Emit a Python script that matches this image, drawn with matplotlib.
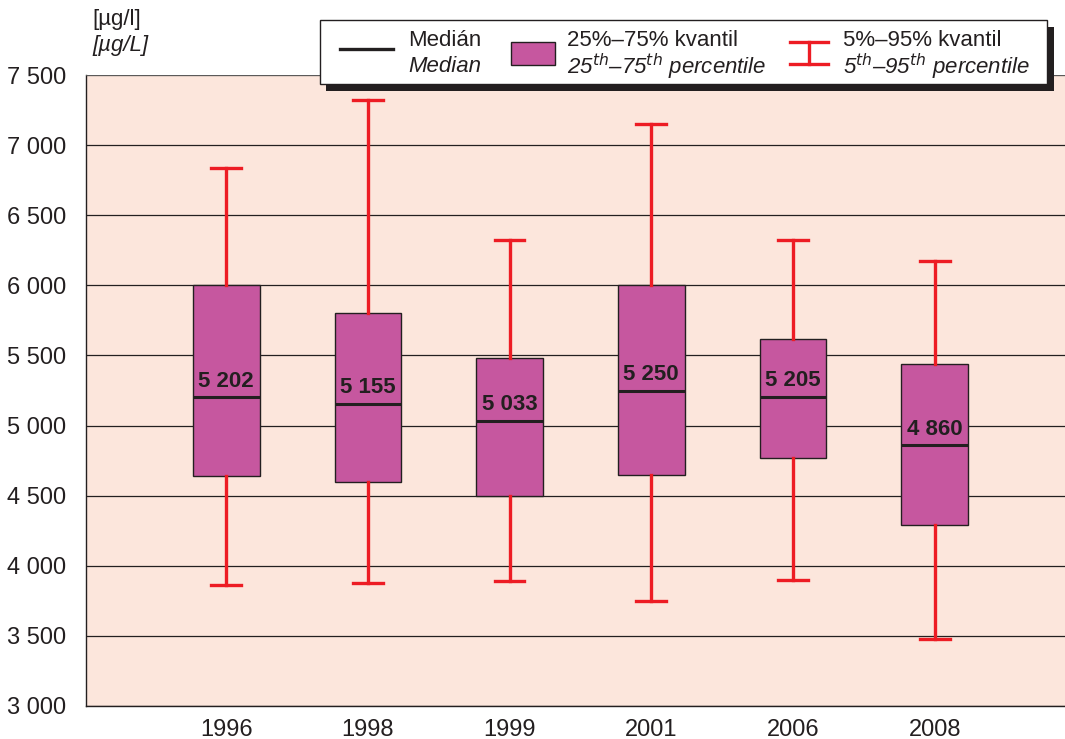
import matplotlib
matplotlib.use('Agg')
import matplotlib.pyplot as plt
from matplotlib.patches import Rectangle
from matplotlib.lines import Line2D

plt.rcParams['font.family'] = ['Liberation Sans Narrow', 'Liberation Sans', 'DejaVu Sans']
plt.rcParams['mathtext.fontset'] = 'custom'
plt.rcParams['mathtext.it'] = 'Liberation Sans Narrow:italic'
plt.rcParams['mathtext.rm'] = 'Liberation Sans Narrow'
plt.rcParams['mathtext.default'] = 'it'

# data
roky = ['1996', '1998', '1999', '2001', '2006', '2008']
p5 = [3860, 3880, 3890, 3750, 3900, 3480]
p25 = [4640, 4600, 4500, 4650, 4770, 4290]
median = [5202, 5155, 5033, 5250, 5205, 4860]
p75 = [6000, 5800, 5480, 6000, 5620, 5440]
p95 = [6840, 7320, 6320, 7150, 6320, 6170]

W, H = 1065, 739
bg = '#fce6dc'
box_c = '#c6579f'
red = '#ed1c24'
dark = '#231f20'
fs = 17     # osy
fs2 = 16    # legenda a popisky

fig = plt.figure(figsize=(W / 100, H / 100), dpi=100)
ax = fig.add_axes([86 / W, 1 - 706 / H, 1 - 86 / W, (706 - 75) / H])
ax.set_facecolor(bg)

stats = []
for i in range(len(roky)):
    stats.append({'med': median[i], 'q1': p25[i], 'q3': p75[i],
                  'whislo': p5[i], 'whishi': p95[i], 'fliers': []})

pos = list(range(1, len(roky) + 1))
ax.bxp(stats, positions=pos, widths=0.47, capwidths=0.21, patch_artist=True,
       showfliers=False,
       boxprops=dict(facecolor=box_c, edgecolor=dark, linewidth=1.0),
       medianprops=dict(color=dark, linewidth=2.2, solid_capstyle='butt'),
       whiskerprops=dict(color=red, linewidth=2.4),
       capprops=dict(color=red, linewidth=2.4),
       zorder=3)

for x, m in zip(pos, median):
    ax.annotate(f'{m:,}'.replace(',', ' '), (x, m), xytext=(0, 4),
                textcoords='offset points', ha='center', va='bottom',
                fontsize=fs2, fontweight='bold', color=dark, zorder=4)

ax.set_xlim(0.01, 6.92)
ax.set_ylim(3000, 7500)
yt = list(range(3000, 7501, 500))
ax.set_yticks(yt)
ax.set_yticklabels([f'{v:,}'.replace(',', ' ') for v in yt])
ax.set_xticks(pos)
ax.set_xticklabels(roky)
ax.tick_params(axis='y', length=0, pad=14, labelsize=fs, labelcolor=dark)
ax.tick_params(axis='x', length=0, pad=9, labelsize=fs, labelcolor=dark)
ax.grid(axis='y', color=dark, linewidth=0.9)
ax.set_axisbelow(True)
for s in ['left', 'bottom']:
    ax.spines[s].set_color(dark)
    ax.spines[s].set_linewidth(1.0)
ax.spines['right'].set_visible(False)
ax.spines['top'].set_color('#666666')
ax.spines['top'].set_linewidth(0.6)


def fx(x):
    return x / W


def fy(y):
    return 1 - y / H


# jednotky
fig.text(fx(92), fy(20), '[µg/l]', fontsize=fs2, color=dark, va='center')
fig.text(fx(92), fy(46), '[µg/L]', fontsize=fs2, color=dark, va='center', style='italic')

# legenda
fig.patches.append(Rectangle((fx(326), fy(91)), fx(1054 - 326), (91 - 27) / H,
                             transform=fig.transFigure, facecolor=dark,
                             edgecolor='none', zorder=5))
fig.patches.append(Rectangle((fx(320), fy(84)), fx(1047 - 320), (84 - 20) / H,
                             transform=fig.transFigure, facecolor='white',
                             edgecolor=dark, linewidth=1.0, zorder=6))
fig.lines.append(Line2D([fx(340), fx(393)], [fy(49), fy(49)], transform=fig.transFigure,
                        color=dark, linewidth=2.4, zorder=7))
fig.text(fx(481), fy(41), 'Medián', fontsize=fs2, color=dark, ha='right', va='center', zorder=7)
fig.text(fx(481), fy(67), 'Median', fontsize=fs2, color=dark, ha='right', va='center',
         style='italic', zorder=7)
fig.patches.append(Rectangle((fx(511), fy(65)), fx(555 - 511), (65 - 42) / H,
                             transform=fig.transFigure, facecolor=box_c,
                             edgecolor=dark, linewidth=1.0, zorder=7))
fig.text(fx(567), fy(41), '25%–75% kvantil', fontsize=fs2, color=dark, va='center', zorder=7)
fig.text(fx(567), fy(67), r'25$^{th}$–75$^{th}$ percentile', fontsize=fs2, color=dark,
         va='center', style='italic', zorder=7)
fig.lines.append(Line2D([fx(809), fx(809)], [fy(42), fy(64)], transform=fig.transFigure,
                        color=red, linewidth=2.4, zorder=7))
for yy in (42, 64):
    fig.lines.append(Line2D([fx(790), fx(828)], [fy(yy), fy(yy)], transform=fig.transFigure,
                            color=red, linewidth=2.4, zorder=7))
fig.text(fx(843), fy(41), '5%–95% kvantil', fontsize=fs2, color=dark, va='center', zorder=7)
fig.text(fx(843), fy(67), r'5$^{th}$–95$^{th}$ percentile', fontsize=fs2, color=dark,
         va='center', style='italic', zorder=7)

fig.savefig('out.png', dpi=100)
